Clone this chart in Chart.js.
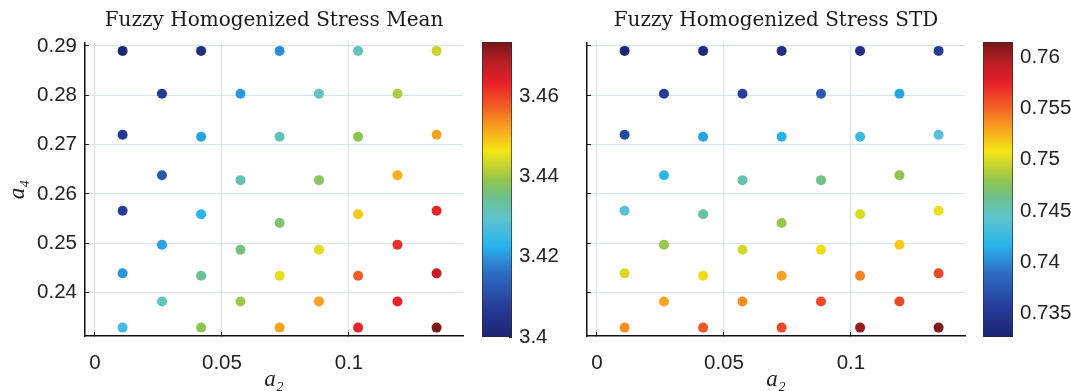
<!DOCTYPE html>
<html><head><meta charset="utf-8">
<script src="https://cdn.jsdelivr.net/npm/chart.js@4/dist/chart.umd.min.js"></script>
<style>
html,body{margin:0;padding:0;background:#fff;}
#wrap{position:relative;width:1071px;height:391px;overflow:hidden;background:#fff;}
canvas{position:absolute;top:0;}
</style></head><body>
<div id="wrap">
<canvas id="meanPlot" width="470" height="391" style="left:0px"></canvas>
<canvas id="stdPlot" width="470" height="391" style="left:502px"></canvas>
<canvas id="meanBar" width="100" height="391" style="left:482px"></canvas>
<canvas id="stdBar" width="88" height="391" style="left:983px"></canvas>
</div>
<script>
// ---- data ----
const a2 = [
  0.0109, 0.0418, 0.0727, 0.1036, 0.1345,
  0.0264, 0.0573, 0.0882, 0.1191,
  0.0109, 0.0418, 0.0727, 0.1036, 0.1345,
  0.0264, 0.0573, 0.0882, 0.1191,
  0.0109, 0.0418, 0.0727, 0.1036, 0.1345,
  0.0264, 0.0573, 0.0882, 0.1191,
  0.0109, 0.0418, 0.0727, 0.1036, 0.1345,
  0.0264, 0.0573, 0.0882, 0.1191,
  0.0109, 0.0418, 0.0727, 0.1036, 0.1345
];
const a4 = [
  0.2890, 0.2890, 0.2890, 0.2890, 0.2890,
  0.2803, 0.2803, 0.2803, 0.2803,
  0.2720, 0.2716, 0.2716, 0.2716, 0.2720,
  0.2638, 0.2628, 0.2628, 0.2638,
  0.2566, 0.2559, 0.2541, 0.2559, 0.2566,
  0.2497, 0.2487, 0.2487, 0.2497,
  0.2439, 0.2434, 0.2434, 0.2434, 0.2439,
  0.2382, 0.2382, 0.2382, 0.2382,
  0.2329, 0.2329, 0.2329, 0.2329, 0.2329
];
const stressMean = [
  3.401, 3.403, 3.419, 3.432, 3.443,
  3.406, 3.420, 3.431, 3.441,
  3.406, 3.421, 3.431, 3.439, 3.452,
  3.412, 3.432, 3.438, 3.451,
  3.407, 3.423, 3.437, 3.449, 3.463,
  3.421, 3.436, 3.445, 3.462,
  3.420, 3.434, 3.445, 3.458, 3.467,
  3.431, 3.440, 3.452, 3.463,
  3.426, 3.439, 3.452, 3.463, 3.473
];
const stressStd = [
  0.7330, 0.7333, 0.7337, 0.7342, 0.7355,
  0.7355, 0.7357, 0.7375, 0.7410,
  0.7365, 0.7410, 0.7415, 0.7425, 0.7440,
  0.7420, 0.7455, 0.7465, 0.7480,
  0.7438, 0.7455, 0.7482, 0.7500, 0.7505,
  0.7482, 0.7498, 0.7512, 0.7518,
  0.7500, 0.7512, 0.7530, 0.7540, 0.7560,
  0.7530, 0.7537, 0.7560, 0.7560,
  0.7537, 0.7555, 0.7560, 0.7605, 0.7612
];
const xTicks = [0, 0.05, 0.1];
const xTickLabels = ['0', '0.05', '0.1'];
const yTicks = [0.24, 0.25, 0.26, 0.27, 0.28, 0.29];
const yTickLabels = ['0.24', '0.25', '0.26', '0.27', '0.28', '0.29'];
const meanTicks = [3.40, 3.42, 3.44, 3.46];
const meanTickLabels = ['3.4', '3.42', '3.44', '3.46'];
const stdTicks = [0.735, 0.74, 0.745, 0.75, 0.755, 0.76];
const stdTickLabels = ['0.735', '0.74', '0.745', '0.75', '0.755', '0.76'];
const xRange = [-0.0039, 0.1449];
const yRange = [0.2312, 0.2906];
const meanRange = [3.40, 3.4736];
const stdRange = [0.7327, 0.7615];

// ---- colormap ----
const cmap = [
  [0.00, '#1c2473'], [0.10, '#253c96'], [0.22, '#2f6ec4'], [0.31, '#28b4ec'],
  [0.40, '#5cc4d0'], [0.47, '#6cc090'], [0.53, '#90c450'], [0.58, '#c4d430'],
  [0.63, '#f4e614'], [0.71, '#f8a020'], [0.78, '#f26024'], [0.86, '#e8202a'],
  [0.93, '#b81e24'], [1.00, '#781818']
];
function hex2rgb(h){return [parseInt(h.slice(1,3),16),parseInt(h.slice(3,5),16),parseInt(h.slice(5,7),16)];}
function colorAt(f){
  f = Math.max(0, Math.min(1, f));
  for (let i = 1; i < cmap.length; i++) {
    if (f <= cmap[i][0]) {
      const [f0,c0] = cmap[i-1], [f1,c1] = cmap[i];
      const t = (f - f0) / (f1 - f0);
      const a = hex2rgb(c0), b = hex2rgb(c1);
      return 'rgb(' + a.map((v,k)=>Math.round(v + (b[k]-v)*t)).join(',') + ')';
    }
  }
  return cmap[cmap.length-1][1];
}

const tickFont = {family: "'Liberation Sans', Arial, sans-serif", size: 20.5};
const labelFont = {family: "'Liberation Serif', 'DejaVu Serif', serif", size: 23, style: 'italic', lineHeight: 1};
const gridColor = '#d3e3f0';

function scatterCfg(title, values, range, showYLabels) {
  return {
    type: 'scatter',
    data: {datasets: [{
      data: a2.map((x, i) => ({x: x, y: a4[i]})),
      pointRadius: 5, pointHoverRadius: 5, pointBorderWidth: 0,
      pointBackgroundColor: values.map(v => colorAt((v - range[0]) / (range[1] - range[0])))
    }]},
    options: {
      responsive: false, animation: false, devicePixelRatio: 1,
      layout: {padding: {left: 0, right: 7, top: 0, bottom: 0}},
      plugins: {
        legend: {display: false}, tooltip: {enabled: false},
        title: {display: true, text: title, fullSize: false, color: '#1a1a1a',
          font: {family: "'DejaVu Serif', serif", size: 20, weight: 'normal', lineHeight: 1.2},
          padding: {top: 9, bottom: 10}}
      },
      scales: {
        x: {
          type: 'linear', min: xRange[0], max: xRange[1],
          afterBuildTicks: s => { s.ticks = xTicks.map(v => ({value: v})); },
          afterFit: s => { s.height = 55; },
          ticks: {padding: 19, color: '#222', font: tickFont, callback: (v, i) => xTickLabels[i]},
          grid: {color: gridColor, lineWidth: 1, drawTicks: true, tickLength: -4, tickColor: '#222', tickWidth: 1},
          border: {display: true, color: '#111', width: 1.5},
          title: {display: true, text: 'a\u2082', color: '#222', font: labelFont, padding: {top: 0, bottom: 0}}
        },
        y: {
          type: 'linear', min: yRange[0], max: yRange[1],
          afterBuildTicks: s => { s.ticks = yTicks.map(v => ({value: v})); },
          afterFit: s => { s.width = 85; },
          ticks: {display: showYLabels, padding: 12, color: '#222', font: tickFont, callback: (v, i) => yTickLabels[i]},
          grid: {color: gridColor, lineWidth: 1, drawTicks: true, tickLength: -4, tickColor: '#222', tickWidth: 1},
          border: {display: true, color: '#111', width: 1.5},
          title: {display: showYLabels, text: 'a\u2084', color: '#222', font: labelFont, padding: {top: 6, bottom: 0}}
        }
      }
    }
  };
}

function gradientFill(ctx) {
  const chart = ctx.chart, area = chart.chartArea;
  if (!area) return '#888';
  const g = chart.ctx.createLinearGradient(0, area.bottom, 0, area.top);
  cmap.forEach(([f, c]) => g.addColorStop(f, c));
  return g;
}

function barCfg(range, ticks, labels, axisWidth) {
  return {
    type: 'bar',
    data: {labels: [''], datasets: [{
      data: [[range[0], range[1]]], backgroundColor: gradientFill,
      borderColor: '#2a2a2a', borderWidth: 1, borderSkipped: false,
      barPercentage: 1, categoryPercentage: 1
    }]},
    options: {
      responsive: false, animation: false, devicePixelRatio: 1,
      layout: {padding: {top: 42, bottom: 54, left: 0, right: 0}},
      plugins: {legend: {display: false}, tooltip: {enabled: false}},
      scales: {
        x: {display: false},
        y: {
          position: 'right', min: range[0], max: range[1],
          afterBuildTicks: s => { s.ticks = ticks.map(v => ({value: v})); },
          afterFit: s => { s.width = axisWidth; },
          ticks: {padding: 10, color: '#222', font: tickFont, callback: (v, i) => labels[i]},
          grid: {drawOnChartArea: false, drawTicks: true, tickLength: -3, color: '#222'},
          border: {display: false}
        }
      }
    }
  };
}

new Chart(document.getElementById('meanPlot'), scatterCfg('Fuzzy Homogenized Stress Mean', stressMean, meanRange, true));
new Chart(document.getElementById('stdPlot'), scatterCfg('Fuzzy Homogenized Stress STD', stressStd, stdRange, false));
new Chart(document.getElementById('meanBar'), barCfg(meanRange, meanTicks, meanTickLabels, 70));
new Chart(document.getElementById('stdBar'), barCfg(stdRange, stdTicks, stdTickLabels, 58));
</script>
</body></html>
